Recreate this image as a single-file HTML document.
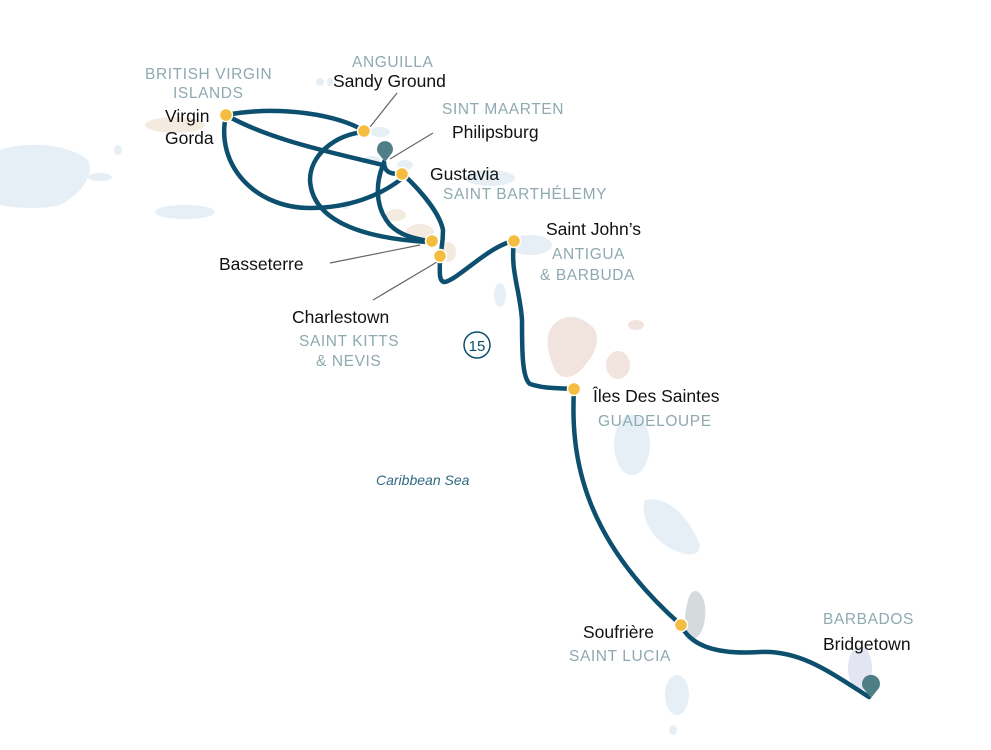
<!DOCTYPE html>
<html><head><meta charset="utf-8"><style>
html,body{margin:0;padding:0;background:#fff;}
svg{display:block;}
.n{font-family:"Liberation Sans",sans-serif;font-size:17.5px;fill:#111;}
.c{font-family:"Liberation Sans",sans-serif;font-size:15.5px;fill:#8fa9b0;letter-spacing:0.6px;}
</style></head><body>
<svg width="991" height="750" viewBox="0 0 991 750" xmlns="http://www.w3.org/2000/svg">
<g fill="#e6eff6">
<path d="M0,150 C30,140 70,145 88,160 C95,175 80,195 60,205 C40,210 15,208 0,205 Z"/>
<ellipse cx="100" cy="177" rx="12" ry="4"/>
<ellipse cx="118" cy="150" rx="4" ry="5"/>
<ellipse cx="185" cy="212" rx="30" ry="7"/>
<ellipse cx="320" cy="82" rx="4" ry="4"/>
<ellipse cx="330" cy="82" rx="3" ry="4"/>
<ellipse cx="380" cy="132" rx="10" ry="5"/>
<ellipse cx="405" cy="165" rx="8" ry="5"/>
<ellipse cx="372" cy="160" rx="8" ry="4"/>
<ellipse cx="345" cy="205" rx="5" ry="4"/>
<ellipse cx="490" cy="178" rx="25" ry="8"/>
<ellipse cx="530" cy="245" rx="22" ry="10"/>
<ellipse cx="500" cy="295" rx="6" ry="12"/>
<ellipse cx="632" cy="445" rx="18" ry="30"/>
<path d="M645,500 C670,495 690,520 700,545 C700,560 680,555 665,545 C650,535 640,515 645,500Z"/>
<ellipse cx="677" cy="695" rx="12" ry="20"/>
<ellipse cx="673" cy="730" rx="4" ry="5"/>
<ellipse cx="860" cy="668" rx="12" ry="22" fill="#e3e6f2"/>
</g>
<g fill="#f3ebe0">
<ellipse cx="175" cy="125" rx="30" ry="8"/>
<ellipse cx="396" cy="215" rx="10" ry="6"/>
<ellipse cx="420" cy="232" rx="14" ry="8"/>
<ellipse cx="448" cy="252" rx="8" ry="10"/>
</g>
<g fill="#f1e4df">
<path d="M550,330 C560,312 580,315 590,325 C600,330 600,350 585,365 C575,380 560,380 555,370 C548,355 545,340 550,330Z"/>
<ellipse cx="618" cy="365" rx="12" ry="14"/>
<ellipse cx="636" cy="325" rx="8" ry="5"/>
</g>
<path d="M688,600 C692,585 702,590 705,605 C707,625 700,640 690,640 C683,635 684,615 688,600Z" fill="#d5dbdd"/>

<g stroke="#666" stroke-width="1.2" fill="none">
<line x1="370" y1="127" x2="397" y2="93"/>
<line x1="390" y1="159" x2="433" y2="133"/>
<line x1="330" y1="263" x2="420" y2="245"/>
<line x1="373" y1="300" x2="437" y2="262"/>
</g>

<g stroke="#0c4f6e" stroke-width="4.5" fill="none" stroke-linecap="round">
<path d="M226,115 C280,105 340,115 364,131"/>
<path d="M226,115 C270,140 330,152 383,165"/>
<path d="M226,115 C215,165 255,208 310,208 C350,208 380,195 400,180"/>
<path d="M363,132 C335,135 310,155 310,180 C312,220 360,238 428,242"/>
<path d="M383,165 C377,180 373,205 390,225 C400,235 412,238 428,241"/>
<path d="M384,162 C384,172 390,174 400,174"/>
<path d="M403,174 C425,195 440,215 443,230 C443,245 440,256 440,256"/>
<path d="M440,256 C440,270 438,282 445,282 C460,278 490,245 514,241"/>
<path d="M514,241 C510,270 520,290 522,320 C522,350 522,378 530,384 C545,389 560,388 574,389"/>
<path d="M574,389 C570,460 585,540 681,625"/>
<path d="M681,625 C690,645 715,655 760,652 C800,650 830,672 869,697"/>
</g>

<g fill="#f5bd3f" stroke="#fff" stroke-width="1.5">
<circle cx="226" cy="115" r="6.5"/>
<circle cx="364" cy="131" r="6.5"/>
<circle cx="402" cy="174" r="6.5"/>
<circle cx="432" cy="241" r="6.5"/>
<circle cx="440" cy="256" r="6.5"/>
<circle cx="514" cy="241" r="6.5"/>
<circle cx="574" cy="389" r="6.5"/>
<circle cx="681" cy="625" r="6.5"/>
</g>
<g fill="#4e7f86">
<path d="M385,162 L378,153 A8,8 0 1 1 392,153 Z"/>
<path d="M871,698 L863,688 A9,9 0 1 1 879,688 Z"/>
</g>

<text class="c" x="145" y="79">BRITISH VIRGIN</text>
<text class="c" x="173" y="98">ISLANDS</text>
<text class="n" x="165" y="122">Virgin</text>
<text class="n" x="165" y="144">Gorda</text>
<text class="c" x="352" y="67">ANGUILLA</text>
<text class="n" x="333" y="87">Sandy Ground</text>
<text class="c" x="442" y="114">SINT MAARTEN</text>
<text class="n" x="452" y="138">Philipsburg</text>
<text class="n" x="430" y="180">Gustavia</text>
<text class="c" x="443" y="199">SAINT BARTHÉLEMY</text>
<text class="n" x="546" y="235">Saint John’s</text>
<text class="c" x="552" y="259">ANTIGUA</text>
<text class="c" x="540" y="280">&amp; BARBUDA</text>
<text class="n" x="219" y="270">Basseterre</text>
<text class="n" x="292" y="323">Charlestown</text>
<text class="c" x="299" y="346">SAINT KITTS</text>
<text class="c" x="316" y="366">&amp; NEVIS</text>
<circle cx="477" cy="345" r="13" fill="none" stroke="#0c4f6e" stroke-width="1.5"/>
<text x="477" y="351" text-anchor="middle" font-family="Liberation Sans,sans-serif" font-size="15" fill="#0c4f6e">15</text>
<text class="n" x="593" y="402">Îles Des Saintes</text>
<text class="c" x="598" y="426">GUADELOUPE</text>
<text x="376" y="485" font-family="Liberation Sans,sans-serif" font-style="italic" font-size="14" fill="#2f6a80">Caribbean Sea</text>
<text class="n" x="583" y="638">Soufrière</text>
<text class="c" x="569" y="661">SAINT LUCIA</text>
<text class="c" x="823" y="624">BARBADOS</text>
<text class="n" x="823" y="650">Bridgetown</text>
</svg>
</body></html>
